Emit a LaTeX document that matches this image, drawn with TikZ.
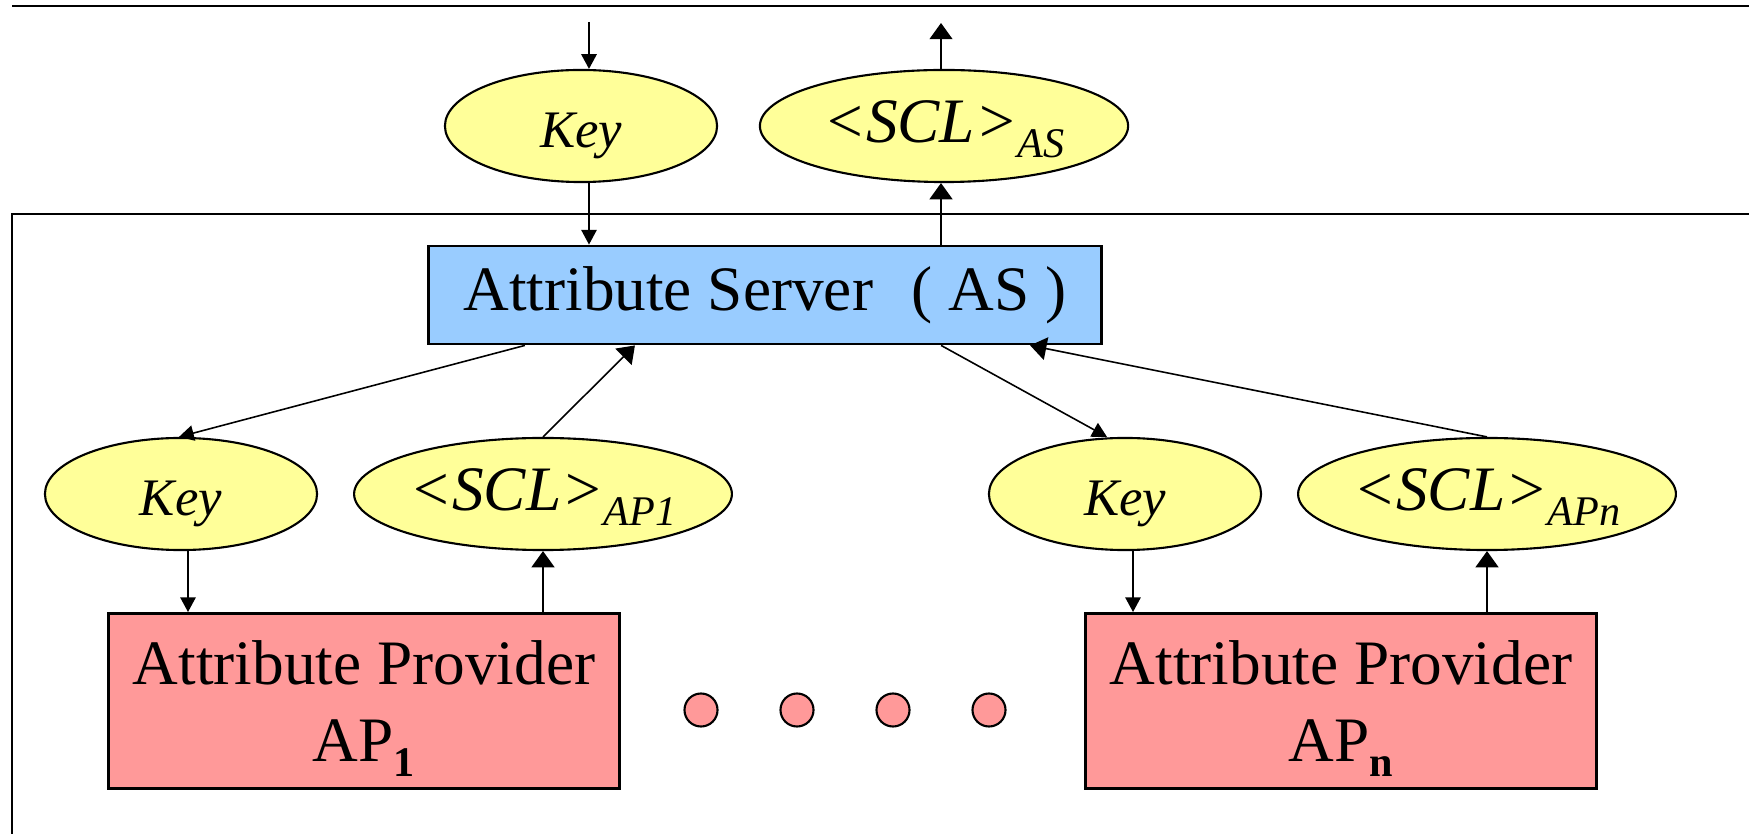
\documentclass[tikz,border=0pt]{standalone}
\usepackage{fontspec}
\setmainfont{Liberation Serif}
\usetikzlibrary{
  arrows.meta,
  positioning,
  shapes.geometric
}
\definecolor{keyyellow}{RGB}{255,255,153}
\definecolor{serverblue}{RGB}{153,204,255}
\definecolor{providerred}{RGB}{255,153,153}
\newcommand{\lowidx}[1]{\raisebox{-4.3pt}[\height][0pt]{\fontsize{12}{12}\selectfont #1}}

\begin{document}
\begin{tikzpicture}[x=0.01cm, y=-0.01cm,
  keyell/.style={ellipse, draw, fill=keyyellow, line width=0.6pt, inner sep=0pt, minimum width=2.72cm, minimum height=1.12cm, text height=12pt, text depth=0pt, font=\fontsize{15}{18}\selectfont\itshape},
  sclell/.style={keyell, minimum width=3.68cm, text height=9.6pt, font=\fontsize{18}{22}\selectfont\itshape},
  serverbox/.style={draw, fill=serverblue, line width=0.8pt, inner sep=0pt, minimum width=6.72cm, minimum height=0.98cm, font=\fontsize{18}{22}\selectfont},
  providerbox/.style={draw, fill=providerred, line width=0.8pt, inner sep=0pt, align=center, minimum width=5.11cm, minimum height=1.75cm, font=\fontsize{18}{22}\selectfont},
  dotnode/.style={circle, draw, fill=providerred, line width=0.6pt, minimum size=0.33cm, inner sep=0pt},
  keyflow/.style={-{Triangle[width=4.4pt,length=4.2pt]}, line width=0.45pt},
  sclflow/.style={-{Triangle[width=6.5pt,length=4.6pt]}, line width=0.45pt}]
  \useasboundingbox (0,0) rectangle (1749,834);

  \draw[line width=0.8pt] (12,6) -- (1749,6);
  \draw[line width=0.8pt] (1749,214) -- (12,214) -- (12,834);

  \node[keyell] (keyas) at (581,126) {Key};
  \node[sclell] (sclas) at (944,126) {<SCL>\lowidx{AS}};
  \node[serverbox] (as) at (765,295) {Attribute Server\hspace{11pt}( AS )};

  \node[keyell] (key1) at (181,494) {Key};
  \node[sclell] (scl1) at (543,494) {<SCL>\lowidx{AP1}};
  \node[keyell] (keyn) at (1125,494) {Key};
  \node[sclell] (scln) at (1487,494) {<SCL>\lowidx{APn}};

  \node[providerbox] (ap1) at (364,701) {Attribute Provider\\AP\lowidx{\bfseries 1}};
  \node[providerbox] (apn) at (1341,701) {Attribute Provider\\AP\lowidx{\bfseries n}};
  \foreach \x [count=\i] in {701,797,893,989}
    \node[dotnode] (dot\i) at (\x,710) {};

  \coordinate (keysrc) at (589,22);
  \coordinate (scldst) at (941,23);
  \draw[keyflow] (keysrc) -- (keysrc |- keyas.north);
  \draw[keyflow] (keyas.south -| keysrc) -- (as.north -| keysrc);
  \draw[sclflow] (as.north -| scldst) -- (sclas.south -| scldst);
  \draw[sclflow] (sclas.north -| scldst) -- (scldst);

  \draw[keyflow] ([xshift=-2.4cm]as.south) -- ([xshift=-0.02cm]key1.north);
  \draw[sclflow] (scl1.north) -- ([xshift=-1.3cm]as.south);
  \draw[keyflow] ([xshift=1.76cm]as.south) -- ([xshift=-0.18cm]keyn.north);
  \draw[sclflow] (scln.north) -- ([xshift=2.65cm]as.south);

  \draw[keyflow] ([xshift=0.07cm]key1.south) -- ([xshift=0.07cm]key1.south |- ap1.north);
  \draw[sclflow] (ap1.north -| scl1) -- (scl1.south);
  \draw[keyflow] ([xshift=0.08cm]keyn.south) -- ([xshift=0.08cm]keyn.south |- apn.north);
  \draw[sclflow] (apn.north -| scln) -- (scln.south);
\end{tikzpicture}
\end{document}
